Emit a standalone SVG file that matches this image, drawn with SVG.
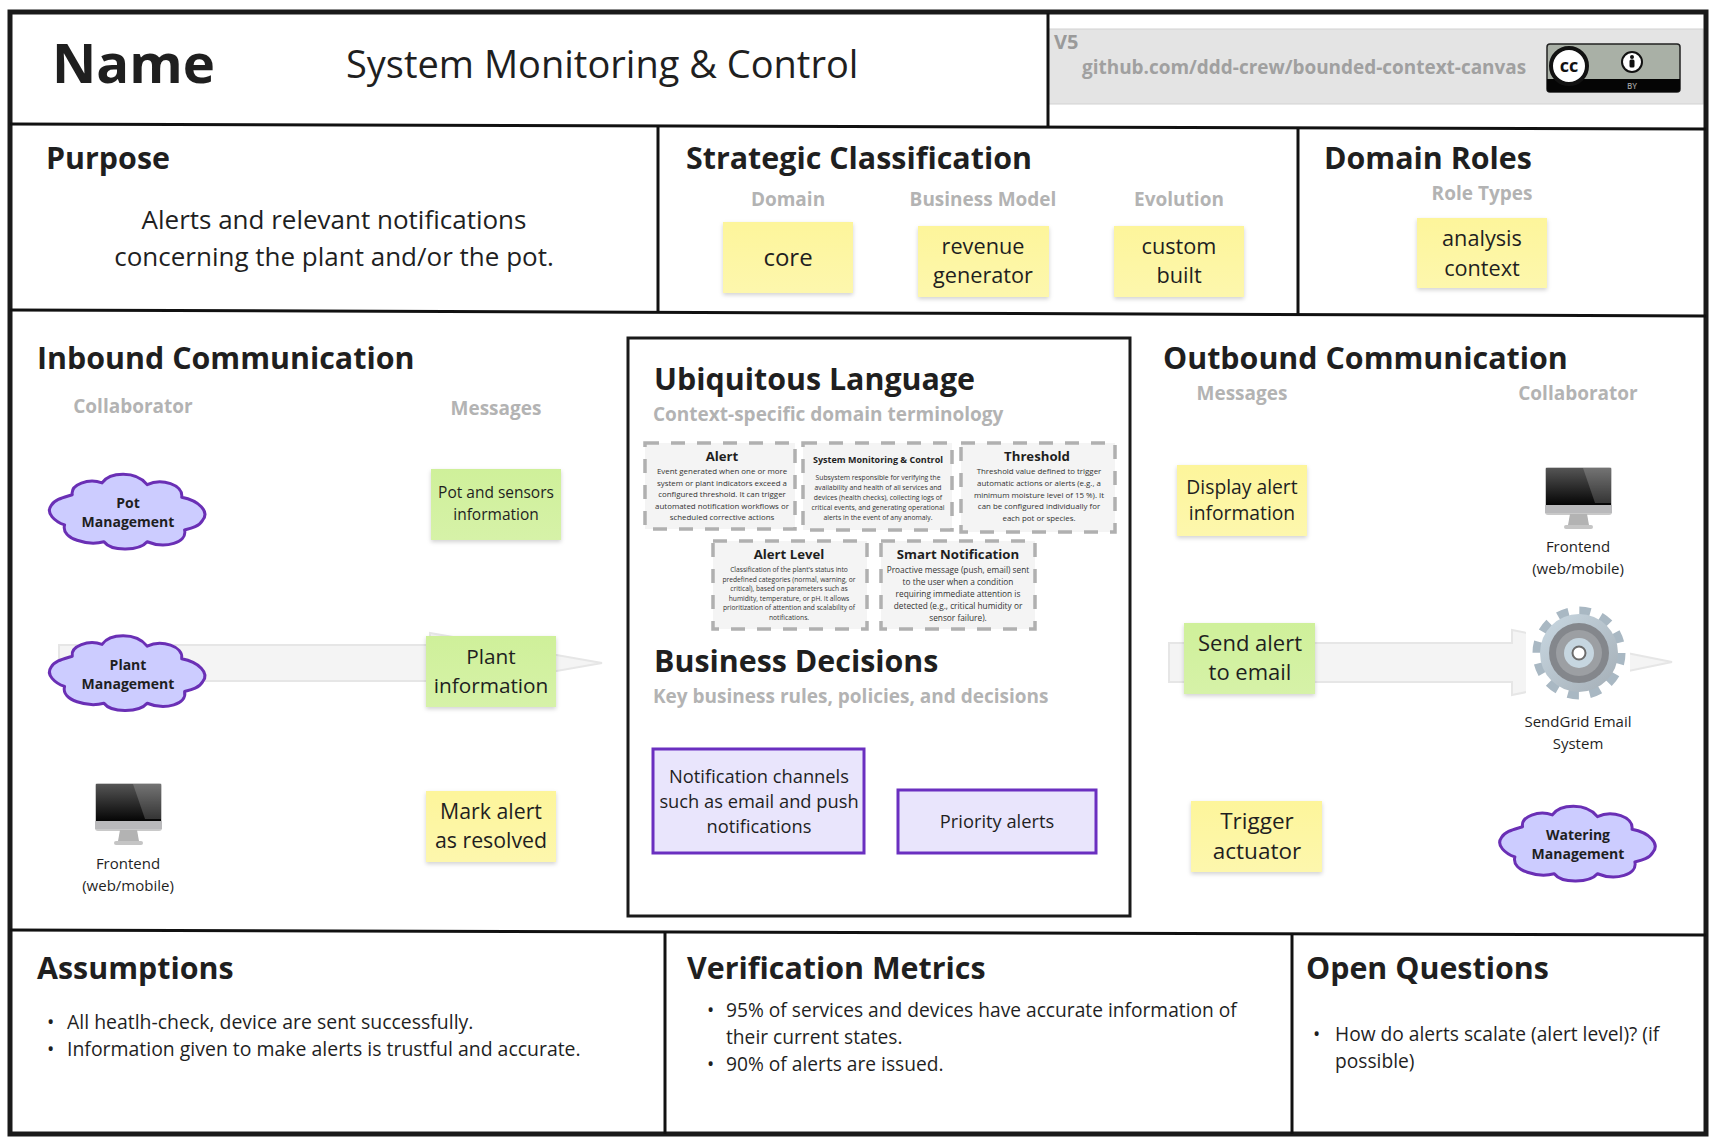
<svg xmlns="http://www.w3.org/2000/svg" xmlns:xlink="http://www.w3.org/1999/xlink" width="1718" height="1144" viewBox="0 0 1718 1144">
<style>
text{font-family:"Open Sans","Noto Sans","Liberation Sans",sans-serif;fill:#1f1f1f}
.h{font-size:30.400px;font-weight:700}
.g{font-size:19px;font-weight:700;fill:#b3b3b3}
.m{text-anchor:middle}
.s{filter:url(#sh)}
.y{fill:url(#yel)}
.gn{fill:url(#grn)}
.l{stroke:#111;stroke-width:3;fill:none}
.ar{fill:#f4f4f4;stroke:#e6e6e6;stroke-width:2}
.cl{font-size:14px;font-weight:700;text-anchor:middle}
.lb{font-size:15px;text-anchor:middle}
.card{fill:#f4f4f4;stroke:#b0b0b0;stroke-width:3.5;stroke-dasharray:14 12}
.ct{font-size:13.200px;font-weight:700;text-anchor:middle}
.b8{font-size:7.900px;text-anchor:middle;fill:#333}
.bd{fill:#e9e5fc;stroke:#6a2fc0;stroke-width:3}
.b{font-size:19.200px}
.ba{font-size:19.450px}
.dt{font-size:18.300px}
.st{font-size:21.700px}
</style>
<defs>
<linearGradient id="yel" x1="0" y1="0" x2="0" y2="1"><stop offset="0" stop-color="#fdf59b"/><stop offset="1" stop-color="#fdf7ad"/></linearGradient>
<linearGradient id="grn" x1="0" y1="0" x2="0" y2="1"><stop offset="0" stop-color="#cff09a"/><stop offset="1" stop-color="#d6f2a8"/></linearGradient>
<linearGradient id="scr" x1="0" y1="0" x2="0" y2="1"><stop offset="0" stop-color="#555"/><stop offset="1" stop-color="#050505"/></linearGradient>
<linearGradient id="gb" x1="0" y1="0" x2="1" y2="1"><stop offset="0" stop-color="#c9d8e2"/><stop offset="1" stop-color="#a4aeb6"/></linearGradient>
<filter id="sh" x="-10%" y="-10%" width="120%" height="125%"><feDropShadow dx="0" dy="2" stdDeviation="2" flood-color="#000" flood-opacity=".18"/></filter>
<path id="cloud" d="M-64,-20 C-66,-32 -47,-40 -33,-34 C-25,-47 2,-49 14,-32 C29,-40 52,-32 50,-17 C68,-13 79,0 72,10 C68,18 60,20 53,22 C56,37 33,45 14,36 C6,47 -23,48 -31,36 C-47,41 -76,33 -72,16 C-82,12 -92,2 -86,-7 C-82,-15 -72,-17 -64,-20 Z" fill="#ccccff" stroke="#6a2fb5" stroke-width="3" stroke-linejoin="round" vector-effect="non-scaling-stroke"/>
<g id="monitor">
<rect x="0" y="0" width="67" height="48" rx="3" fill="#c9c9c9"/>
<rect x="1" y="1" width="65" height="37" fill="url(#scr)"/>
<path d="M38,1 L66,1 L66,36 L50,36 Z" fill="#fff" opacity=".18"/>
<rect x="0" y="38" width="67" height="8" fill="#b9b9bb"/>
<path d="M25,47 H42 L44,58 H23 Z" fill="#b3b3b3"/>
<rect x="19" y="58" width="29" height="4" rx="2" fill="#c5c5c5"/>
</g>
</defs>
<rect width="1718" height="1144" fill="#fff"/>

<g id="connectors">
<path class="ar" d="M59,645 H430 V633 L602,663 L430,693 V681 H59 Z"/>
<path class="ar" d="M1169,643 H1512 V630 L1672,662 L1512,695 V682 H1169 Z"/>
</g>

<g id="frame">
<rect x="1048" y="29" width="655" height="75" fill="#e4e4e4" stroke="#d2d2d2"/>
<rect x="10" y="12" width="1696" height="1122" fill="none" stroke="#1a1a1a" stroke-width="5"/>
<line class="l" x1="1048" y1="13" x2="1048" y2="127"/>
<line class="l" x1="10" y1="124" x2="1706" y2="129"/>
<line class="l" x1="658" y1="126" x2="658" y2="312"/>
<line class="l" x1="1298" y1="128" x2="1298" y2="315"/>
<line class="l" x1="10" y1="310" x2="1706" y2="316"/>
<line class="l" x1="10" y1="930" x2="1706" y2="935"/>
<line class="l" x1="665" y1="932" x2="665" y2="1134"/>
<line class="l" x1="1292" y1="934" x2="1292" y2="1134"/>
</g>

<g id="header">
<text x="52" y="83" style="font-size:54.500px;font-weight:700">Name</text>
<text x="346" y="78" style="font-size:38px">System Monitoring &amp; Control</text>
<text x="1054" y="49" style="font-size:20px;font-weight:700;fill:#9a9a9a">V5</text>
<text x="1082" y="74" style="font-size:18.950px;font-weight:700;fill:#a0a0a0">github.com/ddd-crew/bounded-context-canvas</text>
<g id="badge">
<rect x="1547" y="44" width="133" height="48" rx="3" fill="#a9b0a6" stroke="#222" stroke-width="1.500"/>
<path d="M1547,79 H1680 V89 Q1680,92 1677,92 H1550 Q1547,92 1547,89 Z" fill="#050505"/>
<circle cx="1569" cy="66" r="18" fill="#fff" stroke="#111" stroke-width="4"/>
<text x="1569" y="72" class="m" style="font-size:18px;font-weight:700;fill:#111">cc</text>
<circle cx="1632" cy="62" r="10" fill="#fff" stroke="#111" stroke-width="2"/>
<circle cx="1632" cy="57" r="2" fill="#111"/>
<rect x="1629.500" y="59.500" width="5" height="8" rx="1.500" fill="#111"/>
<text x="1632" y="89" class="m" style="font-size:8px;font-weight:600;fill:#999">BY</text>
</g>
</g>

<g id="purpose">
<text class="h" x="46" y="169">Purpose</text>
<text class="m" x="334" y="229" style="font-size:26px">Alerts and relevant notifications</text>
<text class="m" x="334" y="266" style="font-size:26px">concerning the plant and/or the pot.</text>
</g>

<g id="strategic-classification">
<text class="h" x="686" y="169">Strategic Classification</text>
<text class="g m" x="788" y="206">Domain</text>
<text class="g m" x="983" y="206">Business Model</text>
<text class="g m" x="1179" y="206">Evolution</text>
</g>
<g id="sticky-core"><rect class="s y" x="723" y="222" width="130" height="71"/><text class="m" x="788" y="266" style="font-size:24px">core</text></g>
<g id="sticky-revenue"><rect class="s y" x="918" y="226" width="131" height="71"/><text class="m st" x="983" y="254">revenue</text><text class="m st" x="983" y="283">generator</text></g>
<g id="sticky-custom"><rect class="s y" x="1114" y="226" width="130" height="71"/><text class="m st" x="1179" y="254">custom</text><text class="m st" x="1179" y="283">built</text></g>

<g id="domain-roles">
<text class="h" x="1324" y="169">Domain Roles</text>
<text class="g m" x="1482" y="200">Role Types</text>
</g>
<g id="sticky-analysis"><rect class="s y" x="1417" y="218" width="130" height="70"/><text class="m st" x="1482" y="246">analysis</text><text class="m st" x="1482" y="276">context</text></g>

<g id="inbound">
<text class="h" x="37" y="369">Inbound Communication</text>
<text class="g m" x="133" y="413">Collaborator</text>
<text class="g m" x="496" y="415">Messages</text>
</g>
<g id="pot-management"><use xlink:href="#cloud" transform="translate(133.700,511.500) scale(.96,.84)"/><text class="cl" x="128" y="508">Pot</text><text class="cl" x="128" y="527">Management</text></g>
<g id="msg-pot-sensors"><rect class="s gn" x="431" y="469" width="130" height="71"/><text class="m" x="496" y="498" style="font-size:15.500px">Pot and sensors</text><text class="m" x="496" y="520" style="font-size:15.500px">information</text></g>
<g id="plant-management"><use xlink:href="#cloud" transform="translate(133.700,673) scale(.96,.84)"/><text class="cl" x="128" y="670">Plant</text><text class="cl" x="128" y="689">Management</text></g>
<g id="msg-plant"><rect class="s gn" x="426" y="636" width="130" height="71"/><text class="m" x="491" y="664" style="font-size:20.800px">Plant</text><text class="m" x="491" y="693" style="font-size:20.800px">information</text></g>
<g id="frontend-in"><use xlink:href="#monitor" x="95" y="783"/><text class="lb" x="128" y="869">Frontend</text><text class="lb" x="128" y="891">(web/mobile)</text></g>
<g id="msg-mark"><rect class="s y" x="426" y="791" width="130" height="71"/><text class="m" x="491" y="819" style="font-size:21.300px">Mark alert</text><text class="m" x="491" y="848" style="font-size:21.300px">as resolved</text></g>

<g id="center-panel">
<rect x="628" y="338" width="502" height="578" fill="#fff" stroke="#1a1a1a" stroke-width="3"/>
<text class="h" x="654" y="390">Ubiquitous Language</text>
<text class="g" x="653" y="421">Context-specific domain terminology</text>
<text class="h" x="654" y="672">Business Decisions</text>
<text class="g" x="653" y="703">Key business rules, policies, and decisions</text>
</g>

<g id="term-alert"><rect class="card" x="645" y="443" width="150" height="86"/>
<text class="ct" x="722" y="461">Alert</text>
<text class="b8" x="722" y="474">Event generated when one or more</text><text class="b8" x="722" y="486">system or plant indicators exceed a</text><text class="b8" x="722" y="497">configured threshold. It can trigger</text><text class="b8" x="722" y="509">automated notification workflows or</text><text class="b8" x="722" y="520">scheduled corrective actions</text></g>
<g id="term-smc"><rect class="card" x="803" y="443" width="149" height="87"/>
<text class="ct" x="878" y="463" style="font-size:9px">System Monitoring &amp; Control</text>
<text class="b8" x="878" y="480" style="font-size:6.800px">Subsystem responsible for verifying the</text><text class="b8" x="878" y="490" style="font-size:6.800px">availability and health of all services and</text><text class="b8" x="878" y="500" style="font-size:6.800px">devices (health checks), collecting logs of</text><text class="b8" x="878" y="510" style="font-size:6.800px">critical events, and generating operational</text><text class="b8" x="878" y="520" style="font-size:6.800px">alerts in the event of any anomaly.</text></g>
<g id="term-threshold"><rect class="card" x="961" y="443" width="154" height="89"/>
<text class="ct" x="1037" y="461">Threshold</text>
<text class="b8" x="1039" y="474">Threshold value defined to trigger</text><text class="b8" x="1039" y="486">automatic actions or alerts (e.g., a</text><text class="b8" x="1039" y="498">minimum moisture level of 15 %). It</text><text class="b8" x="1039" y="509">can be configured individually for</text><text class="b8" x="1039" y="521">each pot or species.</text></g>
<g id="term-alert-level"><rect class="card" x="713" y="541" width="154" height="88"/>
<text class="ct" x="789" y="559">Alert Level</text>
<text class="b8" x="789" y="572" style="font-size:6.700px">Classification of the plant's status into</text><text class="b8" x="789" y="582" style="font-size:6.700px">predefined categories (normal, warning, or</text><text class="b8" x="789" y="591" style="font-size:6.700px">critical), based on parameters such as</text><text class="b8" x="789" y="601" style="font-size:6.700px">humidity, temperature, or pH. It allows</text><text class="b8" x="789" y="610" style="font-size:6.700px">prioritization of attention and scalability of</text><text class="b8" x="789" y="620" style="font-size:6.700px">notifications.</text></g>
<g id="term-smart"><rect class="card" x="881" y="541" width="154" height="88"/>
<text class="ct" x="958" y="559">Smart Notification</text>
<text class="b8" x="958" y="573" style="font-size:8.300px">Proactive message (push, email) sent</text><text class="b8" x="958" y="585" style="font-size:8.300px">to the user when a condition</text><text class="b8" x="958" y="597" style="font-size:8.300px">requiring immediate attention is</text><text class="b8" x="958" y="609" style="font-size:8.300px">detected (e.g., critical humidity or</text><text class="b8" x="958" y="621" style="font-size:8.300px">sensor failure).</text></g>

<g id="decision-channels"><rect class="bd" x="653" y="749" width="211" height="104"/><text class="m dt" x="759" y="783">Notification channels</text><text class="m dt" x="759" y="808">such as email and push</text><text class="m dt" x="759" y="833">notifications</text></g>
<g id="decision-priority"><rect class="bd" x="898" y="790" width="198" height="63"/><text class="m dt" x="997" y="828">Priority alerts</text></g>

<g id="outbound">
<text class="h" x="1163" y="369">Outbound Communication</text>
<text class="g m" x="1242" y="400">Messages</text>
<text class="g m" x="1578" y="400">Collaborator</text>
</g>
<g id="msg-display"><rect class="s y" x="1177" y="465" width="130" height="71"/><text class="m" x="1242" y="494" style="font-size:19.300px">Display alert</text><text class="m" x="1242" y="520" style="font-size:19.300px">information</text></g>
<g id="frontend-out"><use xlink:href="#monitor" x="1545" y="467"/><text class="lb" x="1578" y="552">Frontend</text><text class="lb" x="1578" y="574">(web/mobile)</text></g>
<g id="msg-send"><rect class="s gn" x="1184" y="623" width="131" height="71"/><text class="m" x="1250" y="651" style="font-size:22px">Send alert</text><text class="m" x="1250" y="680" style="font-size:22px">to email</text></g>
<g id="sendgrid">
<rect x="1526" y="607" width="104" height="92" fill="#fff"/>
<circle cx="1579" cy="653" r="41.500" fill="none" stroke="#a9b8c3" stroke-width="10" stroke-dasharray="11 10.730"/>
<circle cx="1579" cy="653" r="39" fill="url(#gb)"/>
<circle cx="1579" cy="653" r="30" fill="#84878c"/>
<circle cx="1579" cy="653" r="23" fill="#9c9fa3"/>
<circle cx="1579" cy="653" r="15" fill="#c6d6e0"/>
<circle cx="1579" cy="653" r="6.500" fill="#fff" stroke="#6b6b6b" stroke-width="2"/>
<text class="lb" x="1578" y="727">SendGrid Email</text><text class="lb" x="1578" y="749">System</text>
</g>
<g id="msg-trigger"><rect class="s y" x="1191" y="801" width="131" height="71"/><text class="m" x="1257" y="829" style="font-size:22.500px">Trigger</text><text class="m" x="1257" y="859" style="font-size:22.500px">actuator</text></g>
<g id="watering-management"><use xlink:href="#cloud" transform="translate(1584,843.500) scale(.96,.84)"/><text class="cl" x="1578" y="840">Watering</text><text class="cl" x="1578" y="859">Management</text></g>

<g id="assumptions">
<text class="h" x="37" y="979">Assumptions</text>
<text class="ba" x="47" y="1029">•</text><text class="ba" x="67" y="1029">All heatlh-check, device are sent successfully.</text>
<text class="ba" x="47" y="1056">•</text><text class="ba" x="67" y="1056">Information given to make alerts is trustful and accurate.</text>
</g>
<g id="verification-metrics">
<text class="h" x="687" y="979">Verification Metrics</text>
<text class="b" x="707" y="1017">•</text><text class="b" x="726" y="1017">95% of services and devices have accurate information of</text>
<text class="b" x="726" y="1044">their current states.</text>
<text class="b" x="707" y="1071">•</text><text class="b" x="726" y="1071">90% of alerts are issued.</text>
</g>
<g id="open-questions">
<text class="h" x="1306" y="979">Open Questions</text>
<text class="b" x="1313" y="1041">•</text><text class="b" x="1335" y="1041">How do alerts scalate (alert level)? (if</text>
<text class="b" x="1335" y="1068">possible)</text>
</g>
</svg>
